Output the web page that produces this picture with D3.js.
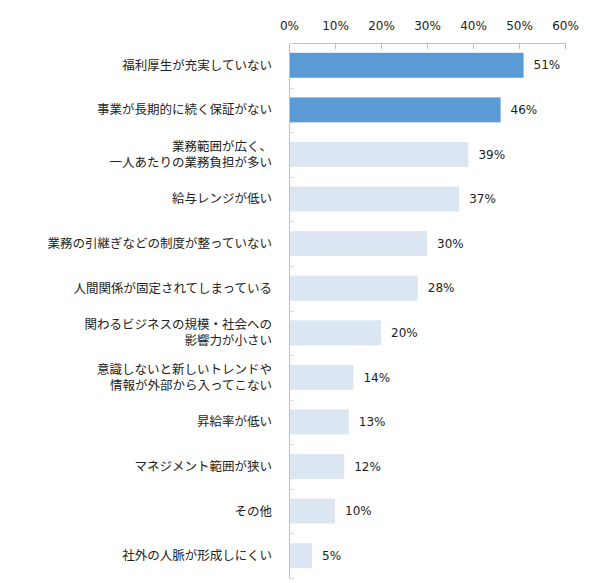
<!DOCTYPE html>
<html>
<head>
<meta charset="utf-8">
<script src="https://cdn.jsdelivr.net/npm/d3@7"></script>
<style>
  body { margin: 0; background: #fff; }
  svg { display: block; }
</style>
</head>
<body>
<svg id="chart" width="590" height="583"></svg>
<script>
const categories = [
  "福利厚生が充実していない",
  "事業が長期的に続く保証がない",
  "業務範囲が広く、\n一人あたりの業務負担が多い",
  "給与レンジが低い",
  "業務の引継ぎなどの制度が整っていない",
  "人間関係が固定されてしまっている",
  "関わるビジネスの規模・社会への\n影響力が小さい",
  "意識しないと新しいトレンドや\n情報が外部から入ってこない",
  "昇給率が低い",
  "マネジメント範囲が狭い",
  "その他",
  "社外の人脈が形成しにくい"
];
const values = [51, 46, 39, 37, 30, 28, 20, 14, 13, 12, 10, 5];
const highlighted = [true, true, false, false, false, false, false, false, false, false, false, false];
const xTicks = [0, 10, 20, 30, 40, 50, 60];

const svg = d3.select("#chart");
const plotLeft = 289, plotRight = 565, plotTop = 43, plotBottom = 578;

const x = d3.scaleLinear().domain([0, 60]).range([plotLeft, plotRight]);
const y = d3.scaleBand().domain(categories).range([plotTop, plotBottom])
  .paddingInner(0.44).paddingOuter(0.22);

// top axis
const xAxis = svg.append("g")
  .attr("transform", `translate(0,${plotTop})`)
  .call(d3.axisTop(x).tickValues(xTicks).tickFormat(d => d + "%").tickSize(-6).tickPadding(13));
xAxis.select(".domain").attr("stroke", "#bfbfbf").attr("d", `M${plotLeft},0.5H${plotRight}`);
xAxis.selectAll(".tick line").attr("stroke", "#bfbfbf");
xAxis.selectAll(".tick text")
  .attr("fill", "#222")
  .style("font-family", "'DejaVu Sans', Verdana, sans-serif")
  .style("font-size", "12px");

// left axis line with ticks at band boundaries
svg.append("line")
  .attr("x1", plotLeft + 0.5).attr("x2", plotLeft + 0.5)
  .attr("y1", plotTop).attr("y2", plotBottom)
  .attr("stroke", "#bfbfbf");
const step = y.step();
const bounds = d3.range(categories.length + 1).map(i => plotTop + i * step);
svg.selectAll(".ytick").data(bounds).join("line")
  .attr("class", "ytick")
  .attr("x1", plotLeft).attr("x2", plotLeft + 5)
  .attr("y1", d => Math.round(d) + 0.5).attr("y2", d => Math.round(d) + 0.5)
  .attr("stroke", "#d9d9d9");

// bars
svg.selectAll(".bar").data(values).join("rect")
  .attr("class", "bar")
  .attr("x", x(0) + 1)
  .attr("y", (d, i) => y(categories[i]))
  .attr("width", d => x(d) - x(0) - 1)
  .attr("height", y.bandwidth())
  .attr("fill", (d, i) => highlighted[i] ? "#5b9bd5" : "#dce6f2");

// value labels
svg.selectAll(".val").data(values).join("text")
  .attr("class", "val")
  .attr("x", d => x(d) + 10)
  .attr("y", (d, i) => y(categories[i]) + y.bandwidth() / 2)
  .attr("dy", "0.35em")
  .attr("fill", "#222")
  .style("font-family", "'DejaVu Sans', Verdana, sans-serif")
  .style("font-size", "12px")
  .text(d => d + "%");

// category labels
const lab = svg.selectAll(".cat").data(categories).join("text")
  .attr("class", "cat")
  .attr("text-anchor", "end")
  .attr("fill", "#222")
  .style("font-family", "'Noto Sans CJK JP', sans-serif")
  .style("font-size", "12.5px");
lab.each(function(d) {
  const lines = d.split("\n");
  const cy = y(d) + y.bandwidth() / 2;
  const lh = 16;
  const t = d3.select(this);
  lines.forEach((l, j) => {
    t.append("tspan")
      .attr("x", 272)
      .attr("y", cy + (j - (lines.length - 1) / 2) * lh)
      .attr("dy", "0.35em")
      .text(l);
  });
});
</script>
</body>
</html>
